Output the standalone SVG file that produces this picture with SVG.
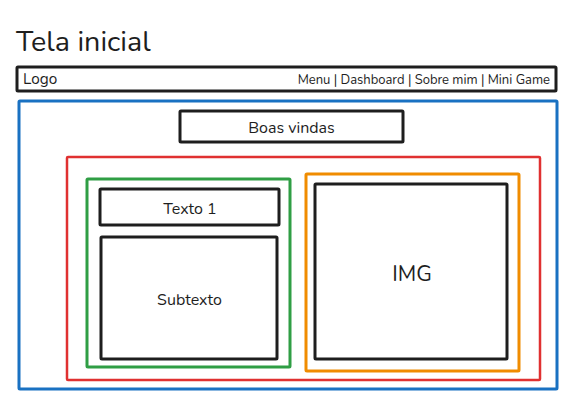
<svg xmlns="http://www.w3.org/2000/svg" width="568" height="401" viewBox="0 0 568 401">
<style>
.box{fill:none;stroke-linejoin:round;stroke-linecap:round}
.k{stroke:#1e1e1e;stroke-width:3}
.b{stroke:#1971c2;stroke-width:3}
.r{stroke:#e03131;stroke-width:2.5}
.g{stroke:#2f9e44;stroke-width:3}
.o{stroke:#f08c00;stroke-width:3}
text{font-family:"Nunito","Lato","Open Sans","Liberation Sans",sans-serif;fill:#1e1e1e}
.t{font-size:16px;text-anchor:middle}
</style>
<rect width="568" height="401" fill="#ffffff"/>
<g id="title"><text x="16" y="51" font-size="28.7">Tela inicial</text></g>
<g id="header">
<rect class="box k" x="17" y="67" width="539" height="24" rx="1"/>
<text x="23" y="84" font-size="15.3">Logo</text>
<text x="550" y="84" font-size="13" text-anchor="end">Menu | Dashboard | Sobre mim | Mini Game</text>
</g>
<g id="main"><rect class="box b" x="19" y="101" width="538" height="288" rx="1"/></g>
<g id="boas-vindas">
<rect class="box k" x="180" y="111" width="223" height="31" rx="1"/>
<text class="t" x="291.5" y="132.5">Boas vindas</text>
</g>
<g id="content"><rect class="box r" x="67" y="157" width="473" height="223" rx="1"/></g>
<g id="text-col"><rect class="box g" x="87" y="179" width="203" height="188" rx="1"/></g>
<g id="texto1">
<rect class="box k" x="100" y="189" width="179" height="36" rx="1"/>
<text class="t" x="190" y="213.5">Texto 1</text>
</g>
<g id="subtexto">
<rect class="box k" x="101" y="237" width="176" height="122" rx="1"/>
<text class="t" x="189.5" y="304.5">Subtexto</text>
</g>
<g id="img-col"><rect class="box o" x="306" y="174" width="213" height="197" rx="1"/></g>
<g id="img">
<rect class="box k" x="315" y="184" width="192" height="175" rx="1"/>
<text x="412" y="281" font-size="21.6" text-anchor="middle">IMG</text>
</g>
<g id="connectors"/>
</svg>
